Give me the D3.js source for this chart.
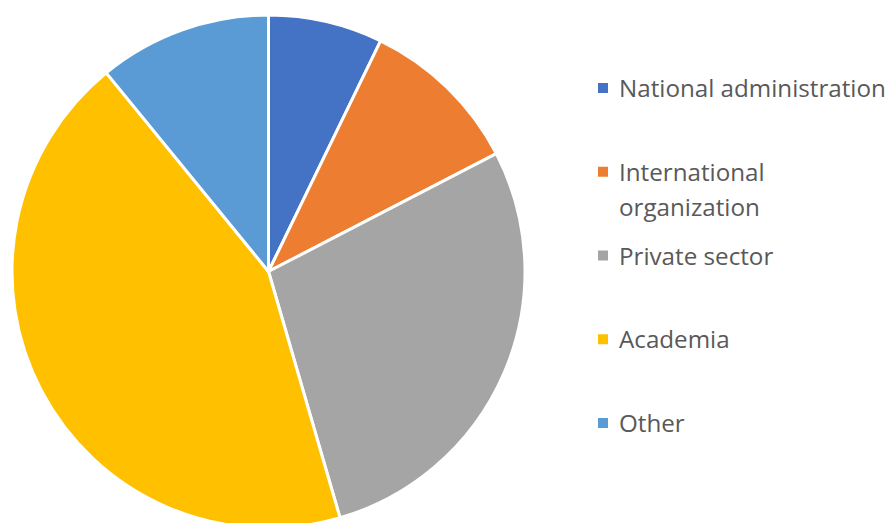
<!DOCTYPE html>
<html>
<head>
<meta charset="utf-8">
<script src="https://cdn.jsdelivr.net/npm/d3@7"></script>
<style>
  body { margin: 0; background: #fff; }
  svg { display: block; }
</style>
</head>
<body>
<svg id="chart" width="890" height="523"></svg>
<script>
// slice shares (percent)
const categories = ['National administration', 'International organization', 'Private sector', 'Academia', 'Other'];
const values = [7.2, 10.2, 28.1, 43.6, 10.9];
const colors = ['#4472C4', '#ED7D31', '#A5A5A5', '#FFC000', '#5B9BD5'];
// legend labels broken in lines the way the chart wraps them
const legendLines = [['National administration'], ['International', 'organization'], ['Private sector'], ['Academia'], ['Other']];

const svg = d3.select('#chart');
const cx = 268.5, cy = 271.5, r = 256.5;

const pie = d3.pie().sort(null).value(d => d);
const arc = d3.arc().innerRadius(0).outerRadius(r);

svg.append('g')
    .attr('transform', `translate(${cx},${cy})`)
  .selectAll('path')
  .data(pie(values))
  .join('path')
    .attr('d', arc)
    .attr('fill', (d, i) => colors[i])
    .attr('stroke', '#fff')
    .attr('stroke-width', 3)
    .attr('stroke-linejoin', 'round');

// legend
const y = d3.scalePoint().domain(d3.range(categories.length)).range([88, 423]);
const leg = svg.append('g')
  .selectAll('g')
  .data(categories)
  .join('g')
    .attr('transform', (d, i) => `translate(598,${y(i)})`);

leg.append('rect')
    .attr('x', 0).attr('y', -5)
    .attr('width', 10).attr('height', 10)
    .attr('fill', (d, i) => colors[i]);

leg.append('text')
    .attr('x', 22)
    .attr('y', 9)
    .attr('font-family', '"Open Sans", sans-serif')
    .attr('font-size', 24.2)
    .attr('fill', '#595959')
  .selectAll('tspan')
  .data((d, i) => legendLines[i])
  .join('tspan')
    .attr('x', 21)
    .attr('dy', (d, j) => j ? 35 : 0)
    .text(d => d);
</script>
</body>
</html>
